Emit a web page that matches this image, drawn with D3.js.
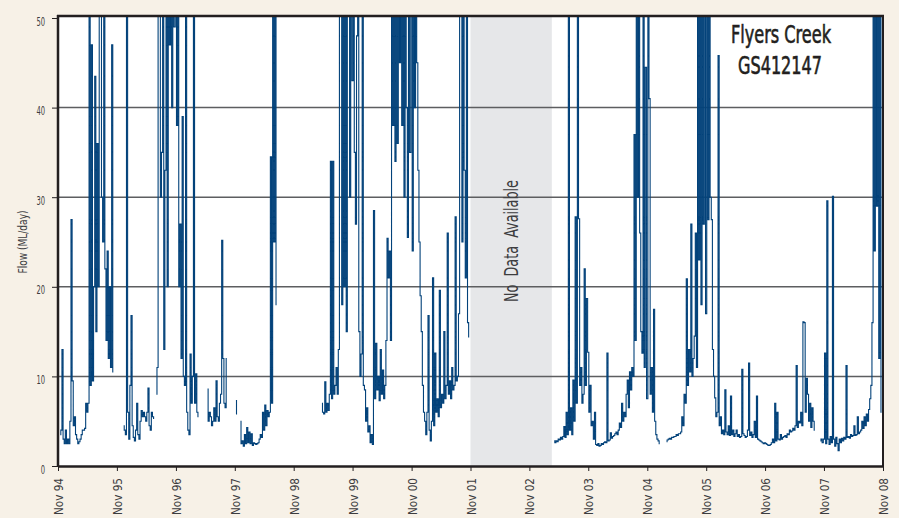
<!DOCTYPE html>
<html>
<head>
<meta charset="utf-8">
<script src="https://cdn.jsdelivr.net/npm/d3@7"></script>
<style>
  html, body { margin: 0; padding: 0; background: #f7f1e7; }
  svg { display: block; }
</style>
</head>
<body>
<svg id="chart" width="899" height="518"></svg>
<script>
// Weekly flow readings (ML/day), one array per water year, week 0 = 1 November
const flow1994 = [null,null,3.5,4,13,3,2.5,4,2.5,3,2.5,5,27.5,9.5,4.5,5.5,3.5,3,2.5,2.7,3,3.5,4,4,4.2,7,6,7,60,9,47,9.5,20,43.5,15,36,20,60,60,30,25,60,22,14,24,12,20,11,47,10.5,null,null];
const flow1995 = [null,null,null,null,null,null,4.5,4,3.5,60,6,3,9,16.8,4.5,3.2,2.8,4,7,3.5,3,5,6.2,5.5,6,5.5,5,6,8.7,4.5,4,6,5.5,5.3,null,8,11,60,60,30,35,60,13,33,60,20,60,47,60,40,60,49];
const flow1996 = [60,38,60,20,27,12,39,10,9,60,6,4,3.5,12.5,7,10,60,7,10.3,6,5.5,null,null,null,null,null,null,null,8.6,5,6,5.5,4.5,5,6.5,5,9.5,5.5,5,7,8,25.2,12,7,6.5,12,null,null,null,null,null,null];
const flow1997 = [null,7.3,5.8,null,null,5,2.5,2.8,2.2,3.5,2.5,4.3,2.6,3.8,2.5,3.6,2.3,2.6,2.5,2.4,2.5,2.6,3,3.5,3.2,6,4,6.8,4.5,6.2,5.5,6,34.5,7,60,25,60,18,null,null,null,null,null,null,null,null,null,null,null,null,null,null];
const flow1998 = [null,null,null,null,null,null,null,null,null,null,null,null,null,null,null,null,null,null,null,null,null,null,null,null,null,7,6,5.8,9.4,6,7,6.2,8,34,7.5,34,8,9,11,8,13,60,60,18,60,20,60,15,60,60,30,60];
const flow1999 = [43,60,35,27,48,60,15,10,12.5,60,9,8.5,5,6.5,3.8,4.5,2.6,3.5,2.4,28.5,7.5,13.7,8.5,10,7.3,13,8,10.7,7.5,9,14,25.4,21,24,14,60,38,60,34,60,36,60,45,60,38,60,30,60,40,25.5,60,35];
const flow2000 = [60,24,60,40,60,45,33,25,19,15,9,6,5,3.5,6,16.8,4,2.8,5,21,4.5,12.6,6,7.5,5.5,19.6,6.5,8,7,15,7.5,9,26,8,9.5,7.5,11,8.5,9,27.8,9.5,10,17,60,60,25,60,33,21,60,16,14.4];
const flow2002 = [null,null,null,null,null,null,null,null,null,null,null,null,null,null,null,null,null,null,null,null,null,null,2.8,2.6,2.8,2.7,3,2.9,3.2,3,3.3,4.4,3.2,6,3.5,60,4,6.5,3.5,9.6,5,27.8,7,60,27.6,9,11,7,8,22,9,18.7];
const flow2003 = [12.7,6,9,4.5,5,3,6,2.4,2.3,2.5,2.2,2.3,2.5,2.4,2.6,2.7,2.6,12.6,2.8,2.9,3.7,3.1,3.3,3.4,3.6,3.8,3.5,4,4.8,4.3,7,5,6,5.5,8,9.6,6.5,10.5,8.5,11,10,37,14,60,30,60,26,15,12.6,60,11,44.5];
const flow2004 = [7.5,60,41,8,11,6,17.5,5,3.5,3,2.8,2.5,null,null,null,null,null,2.7,2.9,3,3.1,3,3.2,3.2,3.3,3.3,3.5,3.4,3.6,3.6,3.8,5.5,4.5,8,7,20.9,9,13,10.5,27,10,12,14.5,26,11,60,23,60,18,60,27,60];
const flow2005 = [17,60,27.5,60,30,27.5,13,10,7.6,5.5,6,45.8,4.5,5.5,3.6,4,3.5,8.5,3.8,3.5,4.5,3.4,7.8,3.5,4,3.3,3.6,4,3.3,3.5,3.2,3.3,10.8,3.6,3.4,3.2,3.3,4,11.5,3.4,3.8,3.2,3.5,5,3.2,7.8,3,2.9,2.8,2.7,2.6,2.5];
const flow2006 = [2.6,2.5,2.4,2.3,2.3,2.4,2.6,3,2.6,7,2.8,6,3,2.9,3.5,3,3.2,3.3,3.4,3.2,3.6,3.5,4,3.8,3.9,4.2,4,4.5,11.2,4.3,5,4.8,6,4.5,16.1,16,6,9.8,8,5,7,4.3,6.5,5,4,null,null,null,null,2.8,3,2.6];
const flow2007 = [3,12.6,2.5,29.6,3,2.4,3.3,2.6,30.1,3,2.2,3.2,2.5,1.7,3,2.6,3.1,2.8,3.2,3,11.2,3.2,3.3,3.1,3.5,3.3,3.4,4.5,3.4,3.5,5.5,3.6,3.8,4,5,4.2,5.5,4.5,5.8,5,6.3,7.5,9,16,60,24,60,29,60,12,60,6];

// water years with data (Nov 2001 - Mar 2003 missing)
const seasons = [
  [1994, flow1994], [1995, flow1995], [1996, flow1996], [1997, flow1997],
  [1998, flow1998], [1999, flow1999], [2000, flow2000], [2002, flow2002],
  [2003, flow2003], [2004, flow2004], [2005, flow2005], [2006, flow2006], [2007, flow2007]
];

const yTicks = [0, 10, 20, 30, 40, 50];
const xTickYears = [1994,1995,1996,1997,1998,1999,2000,2001,2002,2003,2004,2005,2006,2007,2008];
const xTickLabels = ["Nov 94","Nov 95","Nov 96","Nov 97","Nov 98","Nov 99","Nov 00","Nov 01","Nov 02","Nov 03","Nov 04","Nov 05","Nov 06","Nov 07","Nov 08"];
const noDataStart = new Date(2001, 10, 1);
const noDataEnd = new Date(2003, 2, 20);
const noDataText = "No  Data  Available";
const siteName = "Flyers Creek";
const siteCode = "GS412147";
const yTitle = "Flow (ML/day)";

// layout
const W = 899, H = 518;
const plot = { left: 58, right: 883, top: 16, bottom: 466 };
const FONT = "'Liberation Sans Narrow','DejaVu Sans Condensed','Arial Narrow',sans-serif";
const INK = "#231f20";

const svg = d3.select("#chart");

svg.append("rect")
    .attr("width", W)
    .attr("height", H)
    .attr("fill", "#f7f1e7");

const x = d3.scaleTime()
    .domain([new Date(1994, 10, 1), new Date(2008, 10, 1)])
    .range([plot.left, plot.right]);

const y = d3.scaleLinear()
    .domain([0, 50])
    .range([plot.bottom, 18]);

// plot background
svg.append("rect")
    .attr("x", plot.left)
    .attr("y", plot.top)
    .attr("width", plot.right - plot.left)
    .attr("height", plot.bottom - plot.top)
    .attr("fill", "#fff");

// grey band for the missing period
svg.append("rect")
    .attr("x", x(noDataStart))
    .attr("y", plot.top)
    .attr("width", x(noDataEnd) - x(noDataStart))
    .attr("height", plot.bottom - plot.top)
    .attr("fill", "#e6e7e9");

// horizontal grid
svg.append("g")
  .selectAll("line")
  .data(yTicks.filter(d => d > 0 && d < 50))
  .join("line")
    .attr("x1", plot.left)
    .attr("x2", plot.right)
    .attr("y1", d => y(d))
    .attr("y2", d => y(d))
    .attr("stroke", "#5d5e60")
    .attr("stroke-width", 1.5);

// "No Data Available" label
svg.append("text")
    .attr("transform", `translate(${(x(noDataStart) + x(noDataEnd)) / 2 + 7},241) rotate(-90)`)
    .attr("text-anchor", "middle")
    .attr("font-family", FONT)
    .attr("font-size", 20)
    .attr("fill", "#3d3d3f")
    .attr("textLength", 122)
    .attr("lengthAdjust", "spacingAndGlyphs")
    .style("white-space", "pre")
    .text(noDataText);

// flow series
const series = [];
seasons.forEach(([yr, vals]) => {
    vals.forEach((v, k) => {
        series.push({ date: d3.timeDay.offset(new Date(yr, 10, 1), 7 * k), flow: v });
    });
});

svg.append("clipPath")
    .attr("id", "plot-clip")
  .append("rect")
    .attr("x", plot.left)
    .attr("y", plot.top)
    .attr("width", plot.right - plot.left)
    .attr("height", plot.bottom - plot.top);

const line = d3.line()
    .defined(d => d.flow != null)
    .curve(d3.curveStep)
    .x(d => x(d.date))
    .y(d => y(d.flow));

svg.append("path")
    .datum(series)
    .attr("clip-path", "url(#plot-clip)")
    .attr("fill", "none")
    .attr("stroke", "#03427a")
    .attr("stroke-width", 1.1)
    .attr("d", line);

// frame: top and right
svg.append("line")
    .attr("x1", plot.left - 1).attr("x2", plot.right + 1)
    .attr("y1", plot.top).attr("y2", plot.top)
    .attr("stroke", INK).attr("stroke-width", 2.5);
svg.append("line")
    .attr("x1", plot.right).attr("x2", plot.right)
    .attr("y1", plot.top).attr("y2", plot.bottom)
    .attr("stroke", INK).attr("stroke-width", 2);

// x axis
const xAxis = svg.append("g")
    .attr("transform", `translate(0,${plot.bottom})`)
    .call(d3.axisBottom(x)
        .tickValues(xTickYears.map(yr => new Date(yr, 10, 1)))
        .tickFormat((d, i) => xTickLabels[i])
        .tickSize(5)
        .tickSizeOuter(0));

xAxis.select(".domain").attr("stroke", INK).attr("stroke-width", 2.5);
xAxis.selectAll(".tick line").attr("stroke", INK).attr("stroke-width", 1);
xAxis.selectAll("text")
    .attr("transform", "rotate(-90)")
    .attr("x", -12)
    .attr("y", 0)
    .attr("dy", "0.35em")
    .attr("text-anchor", "end")
    .attr("font-family", FONT)
    .attr("font-size", 13)
    .attr("fill", "#3d3d3f")
    .attr("textLength", 37)
    .attr("lengthAdjust", "spacingAndGlyphs");

// y axis
const yAxis = svg.append("g")
    .attr("transform", `translate(${plot.left},0)`)
    .call(d3.axisLeft(y)
        .tickValues(yTicks)
        .tickSize(6)
        .tickSizeOuter(0));

yAxis.select(".domain")
    .attr("d", `M0,${plot.bottom + 1}V${plot.top - 1}`)
    .attr("stroke", INK).attr("stroke-width", 2.5);
yAxis.selectAll(".tick line").attr("stroke", INK).attr("stroke-width", 1);
yAxis.selectAll("text")
    .attr("x", -13)
    .attr("dy", "0.55em")
    .attr("font-family", FONT)
    .attr("font-size", 13)
    .attr("fill", "#3d3d3f")
    .attr("textLength", d => String(d).length * 4.3)
    .attr("lengthAdjust", "spacingAndGlyphs");

// y axis title
svg.append("text")
    .attr("transform", "translate(27,242) rotate(-90)")
    .attr("text-anchor", "middle")
    .attr("font-family", FONT)
    .attr("font-size", 12)
    .attr("fill", "#3d3d3f")
    .attr("textLength", 63)
    .attr("lengthAdjust", "spacingAndGlyphs")
    .text(yTitle);

// site title (regular weight thickened a little with a thin stroke)
[[siteName, 781, 43, 100], [siteCode, 780, 74, 84]].forEach(([label, tx, ty, len]) => {
    svg.append("text")
        .attr("x", tx)
        .attr("y", ty)
        .attr("text-anchor", "middle")
        .attr("font-family", FONT)
        .attr("font-size", 24)
        .attr("fill", INK)
        .attr("stroke", INK)
        .attr("stroke-width", 0.6)
        .attr("textLength", len)
        .attr("lengthAdjust", "spacingAndGlyphs")
        .text(label);
});
</script>
</body>
</html>
